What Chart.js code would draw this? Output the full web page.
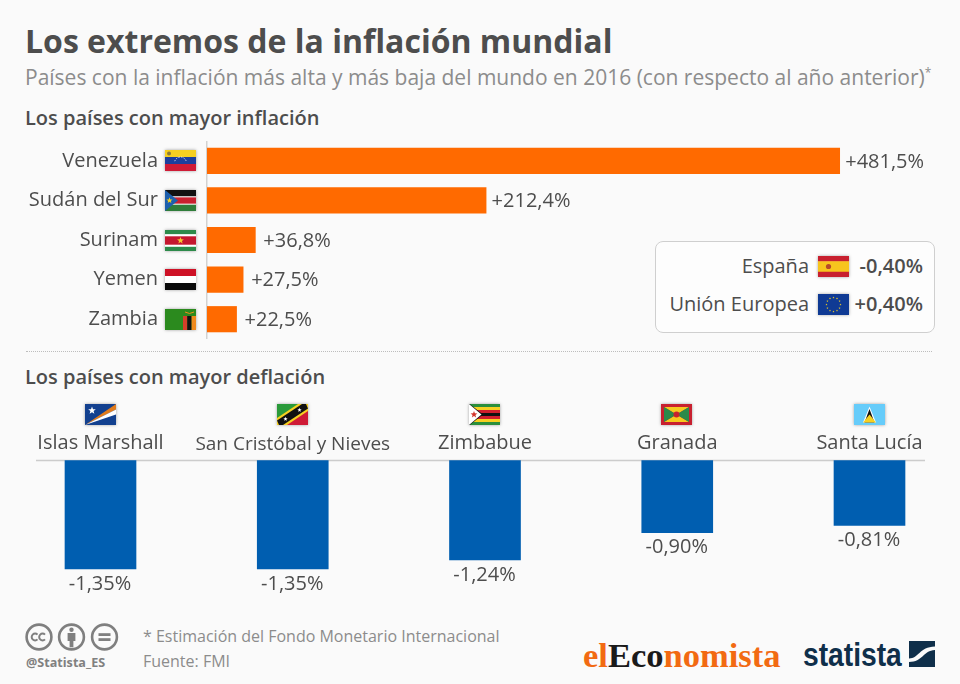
<!DOCTYPE html>
<html lang="es">

<head>
    <meta charset="UTF-8">
    <title>Los extremos de la inflación mundial</title>
    <script src="https://cdn.jsdelivr.net/npm/chart.js@4"></script>
    <style>
        html, body { margin: 0; padding: 0; }
        body { width: 960px; height: 684px; background: #fafafa; position: relative; overflow: hidden; font-family: "Open Sans", sans-serif; color: #4d4d4d; }
        .t { position: absolute; white-space: nowrap; }
        canvas { position: absolute; }
        #title { left: 25px; top: 19px; font-size: 32px; line-height: 44px; font-weight: 700; }
        #subtitle { left: 25px; top: 63px; font-size: 21px; line-height: 28px; color: #8c8c8c; }
        #subtitle sup { font-size: 12px; line-height: 0; }
        .section { left: 25px; font-size: 20px; line-height: 24px; font-weight: 600; }
        #sep { position: absolute; left: 26px; top: 351px; width: 906px; border-top: 1px dotted #bdbdbd; }
        #refBox { position: absolute; left: 655px; top: 241px; width: 278px; height: 90px; border: 1px solid #cfcfcf; border-radius: 8px; background: #fdfdfd; }
        .note { left: 143px; font-size: 16px; line-height: 20px; color: #8c8c8c; }
        #handle { left: 26px; top: 655px; font-size: 12.6px; line-height: 15px; font-weight: 700; color: #808080; }
        #eleco { left: 583px; top: 636px; font-family: "Liberation Serif", serif; font-weight: 700; font-size: 34.5px; line-height: 38px; color: #f26a12; }
        #eleco b { color: #1a1a1a; }
        #statistaLogo { left: 803px; top: 634px; font-family: "Liberation Sans Narrow", "Liberation Sans", sans-serif; font-weight: 700; font-size: 34px; line-height: 40px; color: #0f2f4a; transform: scaleX(0.83); transform-origin: left center; }
        svg { position: absolute; }
    </style>
</head>

<body>
    <div class="t" id="title">Los extremos de la inflación mundial</div>
    <div class="t" id="subtitle">Países con la inflación más alta y más baja del mundo en 2016 (con respecto al año anterior)<sup>*</sup></div>
    <div class="t section" style="top:106px">Los países con mayor inflación</div>
    <canvas id="topChart" width="960" height="198" style="left:0;top:141px"></canvas>
    <div id="refBox"></div>
    <div id="sep"></div>
    <div class="t section" style="top:365px">Los países con mayor deflación</div>
    <canvas id="bottomChart" width="960" height="210" style="left:0;top:395px"></canvas>

    <svg style="left:24px;top:622px" width="96" height="30" viewBox="0 0 96 30">
        <g fill="none" stroke="#7f7f7f" stroke-width="2.6">
            <circle cx="15" cy="15" r="12.4"/>
            <circle cx="47.5" cy="15" r="12.4"/>
            <circle cx="80.5" cy="15" r="12.4"/>
            <path d="M13.5 12.6a3.4 3.4 0 1 0 0 4.8M21 12.6a3.4 3.4 0 1 0 0 4.8" stroke-width="2"/>
        </g>
        <g fill="#7f7f7f">
            <circle cx="47.5" cy="7.8" r="2.2"/>
            <path d="M43.6 11h7.8v8h-2v6.2h-3.8V19h-2z"/>
            <rect x="74.5" y="11.2" width="12" height="2.8"/>
            <rect x="74.5" y="16.2" width="12" height="2.8"/>
        </g>
    </svg>
    <div class="t" id="handle">@Statista_ES</div>
    <div class="t note" style="top:626px">* Estimación del Fondo Monetario Internacional</div>
    <div class="t note" style="top:651px">Fuente: FMI</div>
    <div class="t" id="eleco">el<b>Eco</b>nomista</div>
    <div class="t" id="statistaLogo">statista</div>
    <svg style="left:909px;top:641px" width="26" height="26" viewBox="0 0 26 26">
        <rect width="26" height="26" fill="#0f2f4a"/>
        <path d="M0 17.5C10 17.5 10 6 26 5.5V9C14 9.5 14 21 0 21z" fill="#fafafa"/>
    </svg>

    <script>
        const topCountries = ['Venezuela', 'Sudán del Sur', 'Surinam', 'Yemen', 'Zambia'];
        const topValues = [481.5, 212.4, 36.8, 27.5, 22.5];
        const bottomCountries = ['Islas Marshall', 'San Cristóbal y Nieves', 'Zimbabue', 'Granada', 'Santa Lucía'];
        const bottomValues = [-1.35, -1.35, -1.24, -0.90, -0.81];
        const refCountries = ['España', 'Unión Europea'];
        const refValues = [-0.40, 0.40];

        const textColor = '#4d4d4d';
        const labelFont = '20px "Open Sans"';

        function formatValue(v, decimals) {
            return (v > 0 ? '+' : '') + v.toFixed(decimals).replace('.', ',') + '%';
        }

        function star(ctx, cx, cy, r, color) {
            ctx.fillStyle = color;
            ctx.beginPath();
            for (let i = 0; i < 10; i++) {
                const a = -Math.PI / 2 + i * Math.PI / 5;
                const rr = i % 2 ? r * 0.42 : r;
                ctx.lineTo(cx + rr * Math.cos(a), cy + rr * Math.sin(a));
            }
            ctx.closePath();
            ctx.fill();
        }

        function poly(ctx, color, pts) {
            ctx.fillStyle = color;
            ctx.beginPath();
            pts.forEach(p => ctx.lineTo(p[0], p[1]));
            ctx.closePath();
            ctx.fill();
        }

        function stripes(ctx, w, h, list) {
            const total = list.reduce((s, b) => s + b[1], 0);
            let y = 0;
            list.forEach(b => {
                ctx.fillStyle = b[0];
                ctx.fillRect(0, y, w, b[1] / total * h + 0.5);
                y += b[1] / total * h;
            });
        }

        // every flag is drawn in a w x h box with the origin at its top left corner
        const flagPainters = {
            'Venezuela': (c, w, h) => {
                stripes(c, w, h, [['#f6d021', 1], ['#1c3f9e', 1], ['#cf1b36', 1]]);
                c.fillStyle = '#8a7a3a';
                c.beginPath(); c.arc(4, 3.5, 2, 0, 7); c.fill();
                c.strokeStyle = '#fff'; c.lineWidth = 0.8; c.setLineDash([1.4, 1.2]);
                c.beginPath(); c.arc(w / 2, h * 0.62, 6, Math.PI * 1.1, Math.PI * 1.9); c.stroke();
                c.setLineDash([]);
            },
            'Sudán del Sur': (c, w, h) => {
                stripes(c, w, h, [['#111', 6], ['#fff', 1], ['#c8202f', 6], ['#fff', 1], ['#2f7d3a', 6]]);
                poly(c, '#1c5fae', [[0, 0], [w * 0.42, h / 2], [0, h]]);
                star(c, 4.5, h / 2, 3.2, '#f6d021');
            },
            'Surinam': (c, w, h) => {
                stripes(c, w, h, [['#2d8a4a', 2], ['#fff', 1], ['#c4172f', 4], ['#fff', 1], ['#2d8a4a', 2]]);
                star(c, w / 2, h / 2, 3.6, '#f6c630');
            },
            'Yemen': (c, w, h) => {
                stripes(c, w, h, [['#ce1126', 1], ['#fff', 1], ['#0a0a0a', 1]]);
            },
            'Zambia': (c, w, h) => {
                c.fillStyle = '#2b8a1e'; c.fillRect(0, 0, w, h);
                c.fillStyle = '#d4402a'; c.fillRect(w - 13, 7, 4.3, h - 7);
                c.fillStyle = '#111'; c.fillRect(w - 8.7, 7, 4.3, h - 7);
                c.fillStyle = '#ef8a1e'; c.fillRect(w - 4.4, 7, 4.4, h - 7);
                c.strokeStyle = '#ef8a1e'; c.lineWidth = 1;
                c.beginPath(); c.moveTo(w - 11, 3); c.lineTo(w - 6.5, 4.5); c.lineTo(w - 2, 3); c.stroke();
            },
            'Islas Marshall': (c, w, h) => {
                c.fillStyle = '#12408f'; c.fillRect(0, 0, w, h);
                poly(c, '#e07b1c', [[0, h], [w, 0], [w, 5.6]]);
                poly(c, '#fff', [[0, h], [w, 5.6], [w, 10.5]]);
                star(c, 7, 6.5, 4, '#fff');
            },
            'San Cristóbal y Nieves': (c, w, h) => {
                poly(c, '#2a9a3a', [[0, 0], [w, 0], [0, h]]);
                poly(c, '#cf1b36', [[w, 0], [w, h], [0, h]]);
                poly(c, '#f6d021', [[0, h], [0, h - 7], [w - 10, 0], [w, 0], [w, 7], [10, h]]);
                poly(c, '#111', [[2, h], [0, h - 4.5], [w - 6, 0], [w - 2, 0], [w, 4.5], [6, h]]);
                star(c, 8.5, h - 6, 2.3, '#fff');
                star(c, w - 8.5, 6, 2.3, '#fff');
            },
            'Zimbabue': (c, w, h) => {
                stripes(c, w, h, [['#2a8f3c', 1], ['#f6d021', 1], ['#d21f2c', 1], ['#111', 1], ['#d21f2c', 1], ['#f6d021', 1], ['#2a8f3c', 1]]);
                poly(c, '#111', [[0, -0.5], [14, h / 2], [0, h + 0.5]]);
                poly(c, '#fff', [[0, 0], [12.5, h / 2], [0, h]]);
                star(c, 5, h / 2, 3.6, '#d2342c');
            },
            'Granada': (c, w, h) => {
                c.fillStyle = '#c8202f'; c.fillRect(0, 0, w, h);
                const l = 3, t = 3, r = w - 3, b = h - 3;
                poly(c, '#f6c91e', [[l, t], [r, t], [w / 2, h / 2]]);
                poly(c, '#f6c91e', [[l, b], [r, b], [w / 2, h / 2]]);
                poly(c, '#2b8a4a', [[l, t], [l, b], [w / 2, h / 2]]);
                poly(c, '#2b8a4a', [[r, t], [r, b], [w / 2, h / 2]]);
                c.fillStyle = '#c8202f';
                c.beginPath(); c.arc(w / 2, h / 2, 3, 0, 7); c.fill();
            },
            'Santa Lucía': (c, w, h) => {
                c.fillStyle = '#66ccfa'; c.fillRect(0, 0, w, h);
                poly(c, '#fff', [[w / 2, 2.5], [w / 2 + 6.5, h - 2.5], [w / 2 - 6.5, h - 2.5]]);
                poly(c, '#111', [[w / 2, 5], [w / 2 + 5, h - 2.5], [w / 2 - 5, h - 2.5]]);
                poly(c, '#f6d021', [[w / 2, h / 2], [w / 2 + 6.5, h - 2.5], [w / 2 - 6.5, h - 2.5]]);
            },
            'España': (c, w, h) => {
                stripes(c, w, h, [['#c8202f', 1], ['#f7c51e', 2], ['#c8202f', 1]]);
                c.fillStyle = '#b5492a';
                c.beginPath(); c.arc(10.5, h / 2, 2.6, 0, 7); c.fill();
            },
            'Unión Europea': (c, w, h) => {
                c.fillStyle = '#0f3a94'; c.fillRect(0, 0, w, h);
                for (let i = 0; i < 12; i++) {
                    const a = i * Math.PI / 6;
                    star(c, w / 2 + 7 * Math.cos(a), h / 2 + 7 * Math.sin(a), 1.1, '#f6d021');
                }
            }
        };

        function drawFlag(ctx, name, cx, cy) {
            const w = 31, h = 21;
            ctx.save();
            ctx.translate(Math.round(cx - w / 2), Math.round(cy - h / 2));
            ctx.shadowColor = 'rgba(0,0,0,0.35)';
            ctx.shadowBlur = 3;
            ctx.fillStyle = '#fff';
            ctx.fillRect(0, 0, w, h);
            ctx.shadowColor = 'transparent';
            ctx.beginPath();
            ctx.rect(0, 0, w, h);
            ctx.clip();
            flagPainters[name](ctx, w, h);
            ctx.restore();
        }

        const topExtras = {
            id: 'topExtras',
            afterDatasetsDraw(chart) {
                const ctx = chart.ctx;
                chart.getDatasetMeta(0).data.forEach((bar, i) => {
                    drawFlag(ctx, topCountries[i], 180.5, bar.y);
                    ctx.save();
                    ctx.font = labelFont;
                    ctx.fillStyle = textColor;
                    ctx.textBaseline = 'middle';
                    const gap = topValues[i] > 100 ? 5.5 : 8;
                    ctx.fillText(formatValue(topValues[i], 1), bar.x + gap, bar.y + 1);
                    ctx.restore();
                });
            }
        };

        const bottomExtras = {
            id: 'bottomExtras',
            beforeDatasetsDraw(chart) {
                const ctx = chart.ctx;
                const y0 = chart.scales.y.getPixelForValue(0);
                ctx.save();
                ctx.strokeStyle = '#cccccc';
                ctx.lineWidth = 1.5;
                ctx.beginPath();
                ctx.moveTo(36, y0);
                ctx.lineTo(925, y0);
                ctx.stroke();
                ctx.restore();
            },
            afterDatasetsDraw(chart) {
                const ctx = chart.ctx;
                chart.getDatasetMeta(0).data.forEach((bar, i) => {
                    drawFlag(ctx, bottomCountries[i], bar.x - 0.5, 19.5);
                    ctx.save();
                    ctx.font = labelFont;
                    ctx.fillStyle = textColor;
                    ctx.textAlign = 'center';
                    ctx.textBaseline = 'middle';
                    ctx.fillText(formatValue(bottomValues[i], 2), bar.x - 0.5, bar.y + 15);
                    ctx.restore();
                });
            }
        };

        new Chart(document.getElementById('topChart').getContext('2d'), {
            type: 'bar',
            data: {
                labels: topCountries,
                datasets: [{ data: topValues, backgroundColor: '#ff6a00', barThickness: 25.5 }]
            },
            options: {
                indexAxis: 'y',
                responsive: false,
                animation: false,
                layout: { padding: { right: 96 } },
                plugins: { legend: { display: false }, tooltip: { enabled: false } },
                scales: {
                    x: { display: false, min: 0, max: 500 },
                    y: {
                        afterFit(scale) {
                            scale.width = 207;
                            // keep the bands at full height, the labels fit inside them anyway
                            scale.paddingTop = 0;
                            scale.paddingBottom = 0;
                        },
                        // tickLength moves the labels off the axis; ticks.padding would also shrink the plot height
                        grid: { drawOnChartArea: false, tickLength: 49, tickColor: 'transparent' },
                        border: { color: '#d2d2d2', width: 1.5 },
                        ticks: { color: textColor, font: { family: 'Open Sans', size: 20 }, padding: 0 }
                    }
                }
            },
            plugins: [topExtras]
        });

        new Chart(document.getElementById('bottomChart').getContext('2d'), {
            type: 'bar',
            data: {
                labels: bottomCountries,
                datasets: [{ data: bottomValues, backgroundColor: '#005eb0', barThickness: 71, clip: false }]
            },
            options: {
                responsive: false,
                animation: false,
                layout: { padding: { left: 100.5, right: 90.5 } },
                plugins: { legend: { display: false }, tooltip: { enabled: false } },
                scales: {
                    x: {
                        position: 'top',
                        offset: false,
                        afterFit(scale) { scale.height = 65.5; },
                        grid: { display: false, drawTicks: false },
                        border: { display: false },
                        ticks: {
                            color: textColor,
                            // the long label is set tighter in the original
                            font: ctx => ({ family: 'Open Sans', size: ctx.index === 1 ? 19 : 20 }),
                            padding: 5,
                            autoSkip: false,
                            maxRotation: 0
                        }
                    },
                    y: { display: false, min: -1.8, max: 0 }
                }
            },
            plugins: [bottomExtras]
        });

        // reference box next to the upper chart, one row per country
        const refBox = document.getElementById('refBox');
        refCountries.forEach((name, i) => {
            const top = 12 + i * 38;
            const label = document.createElement('div');
            label.className = 't';
            label.style.cssText = `right:125px;top:${top}px;font-size:20px;line-height:24px`;
            label.textContent = name;
            const value = document.createElement('div');
            value.className = 't';
            value.style.cssText = `right:11px;top:${top}px;font-size:20px;line-height:24px;font-weight:600`;
            value.textContent = formatValue(refValues[i], 2);
            const flagCanvas = document.createElement('canvas');
            flagCanvas.width = 39;
            flagCanvas.height = 29;
            flagCanvas.style.cssText = `left:158px;top:${top - 2}px`;
            refBox.append(label, flagCanvas, value);
            drawFlag(flagCanvas.getContext('2d'), name, 19.5, 14.5);
        });
    </script>
</body>

</html>
